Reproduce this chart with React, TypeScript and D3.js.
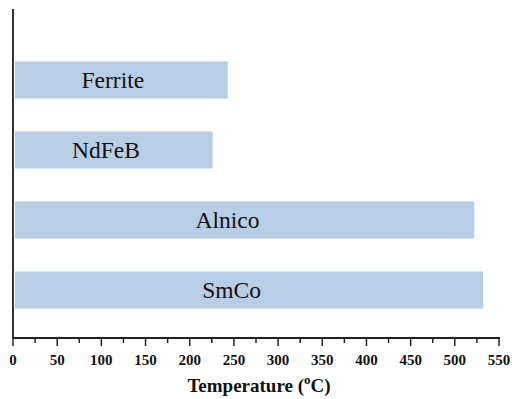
import React from "react";
import * as d3 from "d3";

const categories = ["Ferrite", "NdFeB", "Alnico", "SmCo"];
const temperatures = [243, 226, 522, 532];
const xTicks = [0, 50, 100, 150, 200, 250, 300, 350, 400, 450, 500, 550];
const xMinorTicks = [25, 75, 125, 175, 225, 275, 325, 375, 425, 475, 525];

const W = 512;
const H = 399;
const x0 = 13;
const x1 = 499;
const yTop = 9;
const yAxis = 338;

export default function App() {
  const x = d3.scaleLinear().domain([0, 550]).range([x0, x1]);
  const y = d3
    .scaleBand<string>()
    .domain(categories)
    .range([45, 325])
    .paddingInner(0.47)
    .paddingOuter(0.235);
  const font = "'Liberation Serif', 'Times New Roman', serif";
  return (
    <svg
      width={W}
      height={H}
      style={{ position: "absolute", left: 0, top: 0, background: "#fff", fontFamily: font }}
    >
      {categories.map((c, i) => (
        <g key={c}>
          <rect
            x={x0 + 2}
            y={y(c)}
            width={x(temperatures[i]) - x0 - 2}
            height={y.bandwidth()}
            fill="#b9cde5"
          />
          <text
            x={x0 + (x(temperatures[i]) - x0) * 0.465}
            y={(y(c) as number) + y.bandwidth() / 2}
            dy="0.35em"
            textAnchor="middle"
            fontSize={23.5}
            fill="#111"
            style={{ fontFamily: font }}
          >
            {c}
          </text>
        </g>
      ))}
      <line x1={x0} x2={x0} y1={yTop} y2={yAxis + 1} stroke="#333" strokeWidth={2} />
      <line x1={x0} x2={x1 + 1} y1={yAxis} y2={yAxis} stroke="#222" strokeWidth={2} />
      {xTicks.map((t) => (
        <g key={t}>
          <line x1={x(t)} x2={x(t)} y1={yAxis} y2={yAxis + 8} stroke="#222" strokeWidth={1.5} />
          <text
            x={x(t)}
            y={365}
            textAnchor="middle"
            fontSize={15}
            fontWeight="bold"
            fill="#111"
            style={{ fontFamily: font }}
          >
            {t}
          </text>
        </g>
      ))}
      {xMinorTicks.map((t) => (
        <line key={t} x1={x(t)} x2={x(t)} y1={yAxis} y2={yAxis + 5} stroke="#222" strokeWidth={1.5} />
      ))}
      <text
        x={(x0 + x1) / 2 + 3}
        y={392}
        textAnchor="middle"
        fontSize={19}
        fontWeight="bold"
        fill="#111"
        style={{ fontFamily: font }}
      >
        Temperature (
        <tspan dy={-8} fontSize={13}>o</tspan>
        <tspan dy={8}>C)</tspan>
      </text>
    </svg>
  );
}
